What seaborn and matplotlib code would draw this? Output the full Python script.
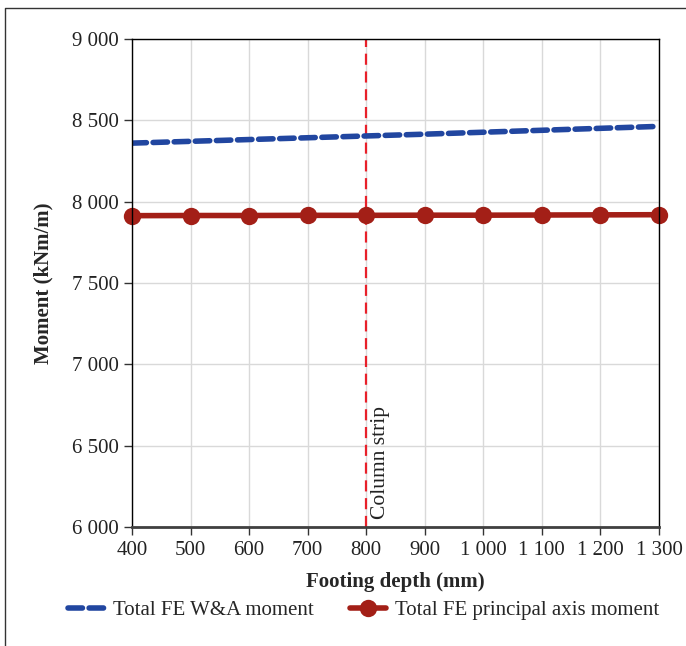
import numpy as np
import pandas as pd
import matplotlib
matplotlib.use("Agg")
import matplotlib.pyplot as plt
import matplotlib.ticker as mtick
from matplotlib.lines import Line2D
import seaborn as sns

# Data
depth = [400, 500, 600, 700, 800, 900, 1000, 1100, 1200, 1300]
wa_moment = [8360, 8371, 8382, 8393, 8404, 8415, 8427, 8439, 8451, 8463]
pa_moment = [7914, 7915, 7915, 7916, 7916, 7917, 7917, 7918, 7919, 7920]
column_strip_x = 800

BLUE = "#2146a0"
RED = "#a31f17"
DASH = (0, (2.6, 1.2))

sns.set_theme(style="white")
plt.rcParams["font.family"] = ["Liberation Serif", "DejaVu Serif"]

df = pd.DataFrame({"depth": depth, "wa": wa_moment, "pa": pa_moment})

fig = plt.figure(figsize=(6.86, 6.46), dpi=100)
ax = fig.add_axes([0.1924, 0.1842, 0.7682, 0.7554])

sns.lineplot(data=df, x="depth", y="wa", ax=ax, color=BLUE, linewidth=4,
             linestyle=DASH, label="Total FE W&A moment",
             dash_capstyle="round")
sns.lineplot(data=df, x="depth", y="pa", ax=ax, color=RED, linewidth=4,
             marker="o", markersize=12.5, markeredgewidth=0,
             label="Total FE principal axis moment", clip_on=False)

ax.axvline(column_strip_x, color="#e8202a", linewidth=1.6,
           linestyle=(0, (5, 3)), zorder=1)
ax.text(column_strip_x + 8, 6050, "Column strip", rotation=90,
        ha="left", va="bottom", fontsize=15.5, color="#222222")

ax.set_xlim(400, 1300)
ax.set_ylim(6000, 9000)
ax.xaxis.set_major_locator(mtick.MultipleLocator(100))
ax.yaxis.set_major_locator(mtick.MultipleLocator(500))
fmt = mtick.FuncFormatter(lambda v, p: f"{int(v):,}".replace(",", " "))
ax.xaxis.set_major_formatter(fmt)
ax.yaxis.set_major_formatter(fmt)

ax.grid(True, color="#d9d9d9", linewidth=1)
ax.set_axisbelow(True)
for side in ["top", "right", "left"]:
    ax.spines[side].set_color("black")
    ax.spines[side].set_linewidth(1)
ax.spines["bottom"].set_color("#404040")
ax.spines["bottom"].set_linewidth(2)

ax.tick_params(axis="both", direction="out", length=6, width=1,
               color="#333333", labelsize=15, labelcolor="#222222",
               bottom=True, left=True)
ax.tick_params(axis="x", pad=4)
ax.set_xlabel("Footing depth (mm)", fontsize=15, fontweight="bold", labelpad=9)
ax.set_ylabel("Moment (kNm/m)", fontsize=15, fontweight="bold", labelpad=13)

ax.legend_.remove()
handles = [
    Line2D([], [], color=BLUE, linewidth=4, linestyle=DASH,
           dash_capstyle="round"),
    Line2D([], [], color=RED, linewidth=4, marker="o", markersize=12.5,
           markeredgewidth=0),
]
fig.legend(handles, ["Total FE W&A moment", "Total FE principal axis moment"],
           loc="center", bbox_to_anchor=(0.53, 0.055), ncol=2, frameon=False,
           fontsize=15, handlelength=1.75, columnspacing=1.7, handletextpad=0.45)

# partial outer frame as in the reference
fig.add_artist(Line2D([5 / 686, 5 / 686, 1.0], [0.0, 1 - 8 / 646, 1 - 8 / 646],
                      transform=fig.transFigure, color="#333333", linewidth=1))

fig.savefig("out.png", dpi=100)
